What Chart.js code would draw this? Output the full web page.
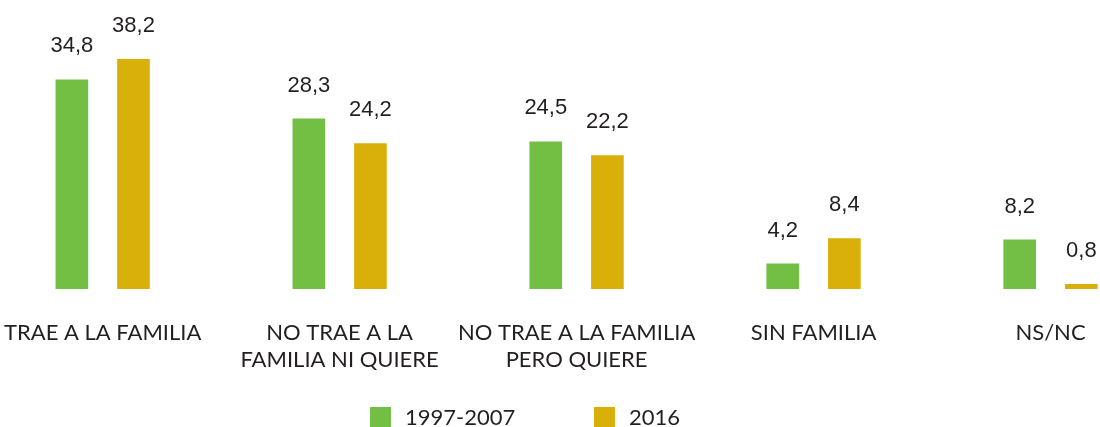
<!DOCTYPE html>
<html>
<head>
<meta charset="utf-8">
<script src="https://cdn.jsdelivr.net/npm/chart.js"></script>
<style>
    html, body { margin: 0; padding: 0; background: #fff; overflow: hidden; }
    #wrap { position: absolute; left: -18px; top: 0; width: 1187px; height: 428px; }
    #legend { position: absolute; top: 0; left: 0; width: 1100px; height: 427px; pointer-events: none;
              font-family: Lato, sans-serif; font-size: 22px; color: #231f20; }
    #legend .box { position: absolute; top: 407px; width: 21px; height: 21px; }
    #legend .txt { position: absolute; top: 404px; line-height: 26px; }
</style>
</head>
<body>
<div id="wrap">
    <canvas id="myBarChart"></canvas>
</div>
<div id="legend"></div>
<script>
// datos
const categorias = ['TRAE A LA FAMILIA', ['NO TRAE A LA', 'FAMILIA NI QUIERE'], ['NO TRAE A LA FAMILIA', 'PERO QUIERE'], 'SIN FAMILIA', 'NS/NC'];
const serie1997 = [34.8, 28.3, 24.5, 4.2, 8.2];
const serie2016 = [38.2, 24.2, 22.2, 8.4, 0.8];
const nombresSeries = ['1997-2007', '2016'];
const colores = ['#72bf44', '#d9b00a'];

// etiquetas de valor encima de las barras (sin plugin externo)
const valueLabels = {
    id: 'valueLabels',
    afterDatasetsDraw(chart) {
        const ctx = chart.ctx;
        ctx.save();
        ctx.font = '22px "Liberation Sans", Arial, sans-serif';
        ctx.fillStyle = '#231f20';
        ctx.textAlign = 'center';
        ctx.textBaseline = 'alphabetic';
        chart.data.datasets.forEach(function (ds, i) {
            chart.getDatasetMeta(i).data.forEach(function (bar, j) {
                ctx.fillText(ds.data[j].toFixed(1).replace('.', ','), bar.x, bar.y - 27);
            });
        });
        ctx.restore();
    }
};

let myChart;
document.addEventListener('DOMContentLoaded', function () {
    const ctx = document.getElementById('myBarChart').getContext('2d');
    myChart = new Chart(ctx, {
        type: 'bar',
        data: {
            labels: categorias,
            datasets: [
                { label: nombresSeries[0], data: serie1997, backgroundColor: colores[0] },
                { label: nombresSeries[1], data: serie2016, backgroundColor: colores[1] }
            ]
        },
        options: {
            responsive: true,
            maintainAspectRatio: false,
            animation: false,
            categoryPercentage: 0.52,
            barPercentage: 0.53,
            layout: { padding: { top: 12, bottom: 33, left: 0, right: 0 } },
            plugins: {
                legend: { display: false },
                tooltip: { enabled: false }
            },
            scales: {
                x: {
                    grid: { display: false },
                    border: { display: false },
                    ticks: {
                        color: '#231f20',
                        padding: 22,
                        maxRotation: 0,
                        autoSkip: false,
                        font: { family: 'Lato', size: 22, lineHeight: 1.23 }
                    }
                },
                y: {
                    display: false,
                    min: 0,
                    max: 46
                }
            }
        },
        plugins: [valueLabels]
    });

    // leyenda
    const legend = document.getElementById('legend');
    const pos = [370, 594];
    nombresSeries.forEach(function (n, i) {
        const b = document.createElement('div');
        b.className = 'box';
        b.style.left = pos[i] + 'px';
        b.style.background = colores[i];
        const t = document.createElement('div');
        t.className = 'txt';
        t.style.left = (pos[i] + 35) + 'px';
        t.textContent = n;
        legend.appendChild(b);
        legend.appendChild(t);
    });
});
</script>
</body>
</html>
